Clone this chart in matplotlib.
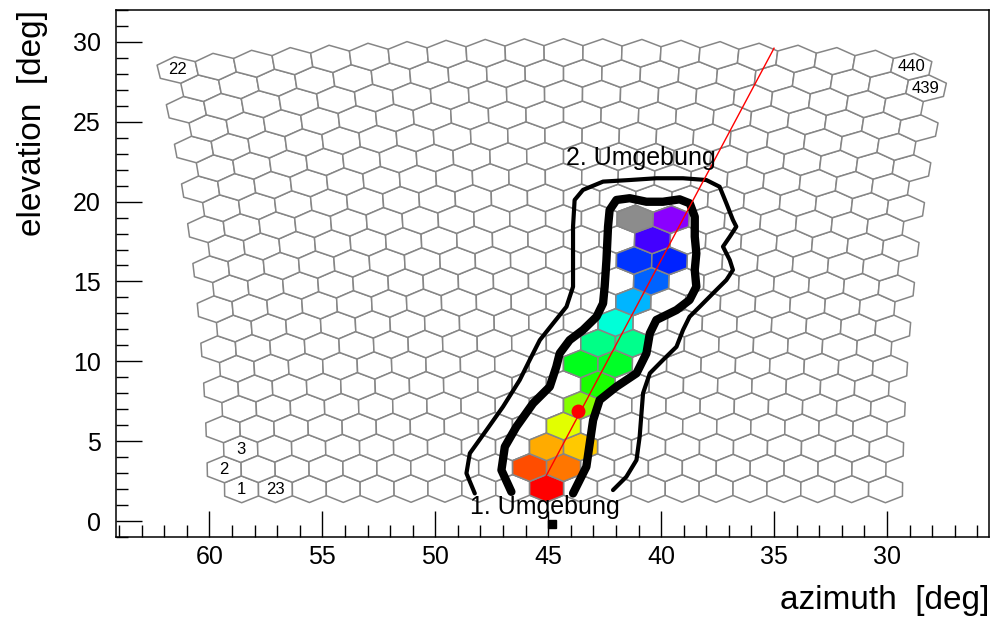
import numpy as np
import matplotlib
matplotlib.use("Agg")
import matplotlib.pyplot as plt
from matplotlib.collections import PolyCollection
from matplotlib.ticker import MultipleLocator

plt.rcParams['font.family'] = ['Liberation Sans', 'DejaVu Sans']

# camera layout: 20 columns x 22 rows of hexagonal pixels, 1.5 deg apart
n_cols = 20
n_rows = 22
pix_spacing = 1.5
cam_az = 44.32
cam_el = 15.69

# pixels carrying a number
label_ids = [1, 2, 3, 22, 23, 439, 440]

# pixels in the track and their pulse time (hue-like units, None = no time)
hit_ids = [199, 200, 222, 201, 223, 224, 225, 248, 227, 249, 250, 272,
           251, 274, 275, 276, 298, 277, 278, 300]
hit_time = [0, 19, 29, 41, 49, 68, 90, 116, 128, 131, 154, 156,
            173, 200, 220, 232, 236, 260, None, 276]

# shower-detector-plane line, reconstructed point, station
sdp_az = [45.1, 35.0]
sdp_el = [2.8, 29.6]
point_az, point_el = 43.7, 6.9
station_az, station_el = 44.85, -0.16

# "1. Umgebung" (inner, thick) and "2. Umgebung" (outer, thin)
ring1_az = [46.63, 47.07, 46.92, 46.41, 45.67, 44.93, 44.64, 44.49, 44.05, 43.46,
            42.86, 42.57, 42.50, 42.42, 42.35, 42.28, 41.98, 41.39, 40.65, 39.92,
            39.18, 38.73, 38.51, 38.51, 38.44, 38.51, 38.44, 38.74, 39.32, 40.21,
            40.50, 40.65, 41.09, 41.98, 42.72, 43.01, 43.16, 43.31, 43.90]
ring1_el = [1.83, 3.19, 4.65, 5.90, 7.37, 8.41, 9.66, 10.50, 11.33, 11.96,
            12.79, 13.63, 14.67, 16.34, 18.43, 19.47, 20.10, 20.21, 19.99, 19.99,
            20.14, 19.89, 19.05, 17.80, 16.76, 15.72, 14.67, 13.84, 13.21, 12.59,
            11.75, 10.50, 9.25, 8.41, 7.58, 6.32, 4.87, 3.40, 1.73]
ring2_az = [48.25, 48.62, 48.47, 47.73, 47.00, 46.26, 45.82, 45.37, 44.78, 44.19,
            43.90, 43.90, 43.90, 43.83, 43.46, 42.57, 41.39, 40.21, 39.03, 38.00,
            37.41, 37.11, 36.82, 36.67, 36.96, 37.26, 36.96, 36.82, 37.11, 37.70,
            38.29, 38.74, 39.03, 39.32, 39.92, 40.50, 40.80, 40.87, 40.95, 41.09,
            41.54, 42.13]
ring2_el = [1.73, 2.99, 4.24, 5.70, 7.16, 8.83, 10.08, 11.33, 12.38, 13.42,
            14.67, 16.34, 18.43, 20.10, 20.73, 21.25, 21.35, 21.46, 21.46, 21.35,
            20.93, 19.89, 18.85, 18.43, 17.80, 17.18, 16.34, 15.72, 15.09, 14.26,
            13.42, 12.79, 11.96, 10.91, 10.08, 9.25, 8.00, 6.74, 5.28, 3.82,
            2.77, 1.94]


def cam_to_sky(u, v):
    # camera angles (deg) -> azimuth, elevation (deg)
    u, w = np.radians(u), np.radians(v + cam_el)
    x = np.cos(u) * np.cos(w)
    y = np.sin(u)
    z = np.cos(u) * np.sin(w)
    return cam_az + np.degrees(np.arctan2(y, x)), np.degrees(np.arcsin(z))


def pixel_uv(pid):
    col, row = divmod(pid - 1, n_rows)
    u = (n_cols / 2 - 0.5 - col + 0.5 * (row % 2)) * pix_spacing
    v = (row - (n_rows - 1) / 2) * pix_spacing * np.sqrt(3) / 2
    return u, v


def pixel_hex(pid):
    u, v = pixel_uv(pid)
    r = pix_spacing / np.sqrt(3)
    ang = np.radians(np.arange(30, 390, 60))
    az, el = cam_to_sky(u + r * np.cos(ang), v + r * np.sin(ang))
    return np.column_stack([az, el])


fig = plt.figure(figsize=(9.91, 6.18), dpi=100)
ax = fig.add_axes([0.117, 0.131, 0.881, 0.853])

all_ids = range(1, n_cols * n_rows + 1)
grid = PolyCollection([pixel_hex(p) for p in all_ids], facecolors='white',
                      edgecolors='#868686', linewidths=1.1, zorder=1)
ax.add_collection(grid)

cmap = plt.get_cmap('hsv')
hit_colors = [('#8c8c8c' if t is None else cmap(t / 360.0)) for t in hit_time]
hits = PolyCollection([pixel_hex(p) for p in hit_ids], facecolors=hit_colors,
                      edgecolors='#868686', linewidths=1.1, zorder=2)
ax.add_collection(hits)

for p in label_ids:
    u, v = pixel_uv(p)
    az, el = cam_to_sky(u, v)
    ax.text(az, el, str(p), ha='center', va='center', fontsize=12, zorder=3)

ax.plot(ring2_az, ring2_el, color='black', lw=3.0, solid_capstyle='round',
        solid_joinstyle='round', zorder=4)
ax.plot(ring1_az, ring1_el, color='black', lw=6.0, solid_capstyle='round',
        solid_joinstyle='round', zorder=4)
ax.plot(sdp_az, sdp_el, color='red', lw=1.0, zorder=5)
ax.plot([point_az], [point_el], 'o', color='red', ms=9, zorder=6)
ax.plot([station_az], [station_el], 's', color='black', ms=6, zorder=6)

ax.text(44.23, 22.73, "2. Umgebung", fontsize=18, ha='left', va='center', zorder=7)
ax.text(48.48, 0.88, "1. Umgebung", fontsize=18, ha='left', va='center', zorder=7)

ax.set_xlim(64.14, 25.48)
ax.set_ylim(-1.0, 32.0)
ax.xaxis.set_major_locator(MultipleLocator(5))
ax.xaxis.set_minor_locator(MultipleLocator(1))
ax.yaxis.set_major_locator(MultipleLocator(5))
ax.yaxis.set_minor_locator(MultipleLocator(1))
ax.tick_params(which='both', direction='in', top=False, right=False, width=1.0)
ax.tick_params(which='major', length=18.5, labelsize=18)
ax.tick_params(axis='x', which='major', pad=6)
ax.tick_params(axis='y', which='major', pad=11)
ax.tick_params(which='minor', length=8.5)
for s in ax.spines.values():
    s.set_linewidth(1.1)

ax.set_xlabel("azimuth  [deg]", fontsize=24, loc='right', labelpad=11)
ax.set_ylabel("elevation  [deg]", fontsize=24, loc='top', labelpad=18)

fig.savefig("out.png", dpi=100)
